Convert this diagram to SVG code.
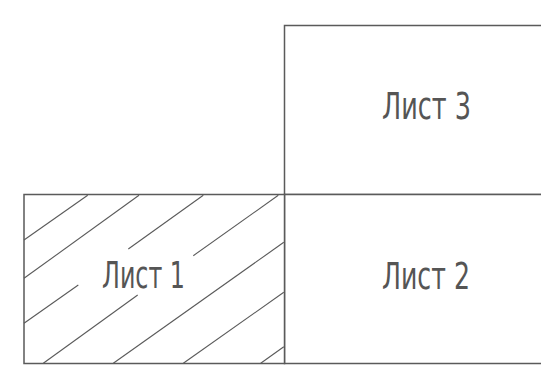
<svg xmlns="http://www.w3.org/2000/svg" width="541" height="382" viewBox="0 0 541 382">
<style>
.box{fill:#fff;stroke:#5a5a5a;stroke-width:1.5}
.hatch{stroke:#5a5a5a;stroke-width:1.1;fill:none;stroke-linecap:butt}
.lbl{font-family:"DejaVu Sans Condensed","DejaVu Sans",sans-serif;font-stretch:condensed;font-size:37px;fill:#555}
</style>
<rect width="541" height="382" fill="#fff"/>
<g id="list3">
<rect class="box" x="284.5" y="25.5" width="300" height="169"/>
<text class="lbl" x="382" y="119" textLength="89" lengthAdjust="spacingAndGlyphs">Лист 3</text>
</g>
<g id="list2">
<rect class="box" x="284.5" y="194.5" width="300" height="169"/>
<text class="lbl" x="382" y="288.5" textLength="88" lengthAdjust="spacingAndGlyphs">Лист 2</text>
</g>
<g id="list1">
<rect class="box" x="24" y="194.5" width="260.5" height="169"/>
<g class="hatch">
<line x1="24" y1="240" x2="87.7" y2="195.3"/>
<line x1="24" y1="278.3" x2="139" y2="195.3"/>
<line x1="24" y1="323.3" x2="78.3" y2="285"/>
<line x1="128.3" y1="249" x2="203.3" y2="195.3"/>
<line x1="43.3" y1="363.3" x2="137.7" y2="295"/>
<line x1="193.3" y1="255.7" x2="278.3" y2="195.3"/>
<line x1="113.3" y1="363.3" x2="283.8" y2="242.3"/>
<line x1="183.3" y1="363.3" x2="283.8" y2="292.3"/>
<line x1="260.7" y1="363.3" x2="283.8" y2="346.7"/>
</g>
<text class="lbl" x="102" y="288" textLength="83" lengthAdjust="spacingAndGlyphs">Лист 1</text>
</g>
<g id="connectors"></g>
</svg>
